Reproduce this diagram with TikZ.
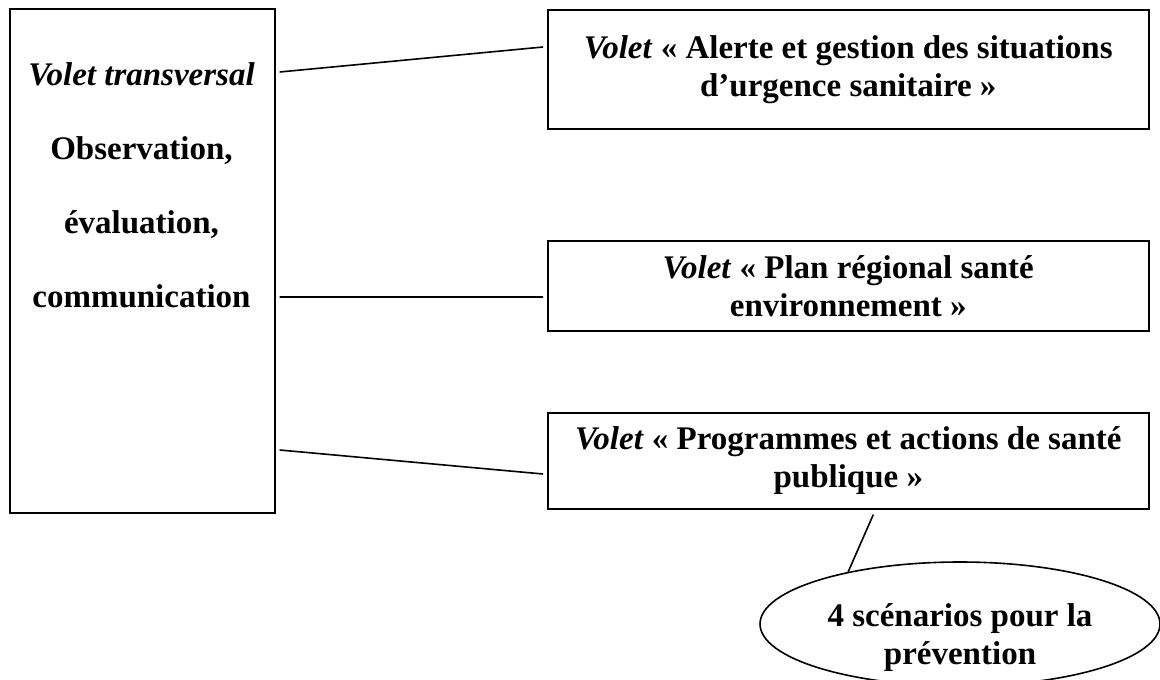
\documentclass[tikz,border=0pt]{standalone}
\usepackage{fontspec}
\setmainfont{Liberation Serif}
\usetikzlibrary{shapes.geometric}

\begin{document}
\begin{tikzpicture}[x=0.5pt,y=-0.5pt,line width=0.8pt,
    boite/.style={draw,anchor=north west,align=center,inner sep=0pt,
      minimum width=300.5pt,font=\fontsize{16.5}{19}\selectfont\bfseries}]
    \useasboundingbox (0,0) rectangle (1160,679);
    % volet transversal
    \node[draw,anchor=north west,minimum width=132.5pt,minimum height=252pt,inner sep=0pt] (vt) at (9,8) {};
    \node[anchor=north,align=center,inner sep=0pt,font=\fontsize{16.5}{37}\selectfont\bfseries]
      (vttexte) at (141.5,62) {\textit{Volet transversal}\\Observation,\\évaluation,\\communication};
    % les trois volets
    \node[boite,minimum height=59.5pt] (alerte) at (547,9)
      {\textit{Volet} «~Alerte et gestion des situations\\d’urgence sanitaire~»};
    \node[boite,minimum height=45pt] (plan) at (547,240)
      {\textit{Volet} «~Plan régional santé\\environnement~»};
    \node[boite,minimum height=48pt] (prog) at (547,412)
      {\textit{Volet} «~Programmes et actions de santé\\publique~»};
    % scenarios
    \node[draw,ellipse,minimum width=200pt,minimum height=62pt,inner sep=0pt] (scen) at (960,624) {};
    \node[align=center,inner sep=0pt,font=\fontsize{16.5}{19}\selectfont\bfseries]
      (scentexte) at (960,638) {4 scénarios pour la\\prévention};
    \draw ([shift={(4,64)}]vt.north east) -- ([shift={(-4,38)}]alerte.north west)
      ([shift={(4,289)}]vt.north east) -- ([shift={(-4,57)}]plan.north west)
      ([shift={(4,442)}]vt.north east) -- ([shift={(-4,62)}]prog.north west)
      ([shift={(25,5)}]prog.south) -- (scen.155);
  \end{tikzpicture}
\end{document}
